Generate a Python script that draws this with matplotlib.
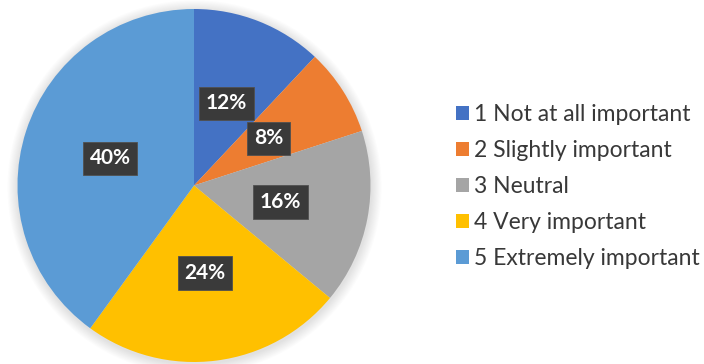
import matplotlib
matplotlib.use("Agg")
import matplotlib.pyplot as plt
from matplotlib.patches import Circle

categories = ["1 Not at all important", "2 Slightly important", "3 Neutral",
              "4 Very important", "5 Extremely important"]
values = [12, 8, 16, 24, 40]
colors = ["#4472C4", "#ED7D31", "#A5A5A5", "#FFC000", "#5B9BD5"]

W, H, DPI = 704, 364, 100
cx, cy, R = 194, 185.5, 176.5  # pie centre/radius in pixels (from top)

fig = plt.figure(figsize=(W / DPI, H / DPI), dpi=DPI)
ax = fig.add_axes([0, 0, 1, 1])

# soft shadow around the pie
n = 10
for i in range(n):
    ax.add_patch(Circle((0.003, -0.01), 1.0 + 0.006 * (n - i), color="#000000",
                        alpha=0.012, lw=0, zorder=0))

wedges, texts, autotexts = ax.pie(
    values, colors=colors, startangle=90, counterclock=False,
    radius=1.0, center=(0, 0), autopct="%1.0f%%", pctdistance=0.5,
    wedgeprops=dict(linewidth=0), frame=True,
    textprops=dict(color="white", fontsize=15, fontweight="bold",
                   family=["Lato", "DejaVu Sans"]))
ax.set_xlim((0 - cx) / R, (W - cx) / R)
ax.set_ylim((cy - H) / R, cy / R)
ax.set_aspect("auto")
ax.axis("off")
for t in autotexts:
    t.set_bbox(dict(boxstyle="square,pad=0.32", facecolor="#3A3A3A",
                    edgecolor="#505050", linewidth=0.6))
    t.set_zorder(5)

leg = ax.legend(wedges, categories, loc="upper left",
                bbox_to_anchor=(456 / W, 1 - 104 / H), bbox_transform=fig.transFigure,
                frameon=False, borderpad=0, borderaxespad=0,
                handlelength=0.55, handleheight=0.55, handletextpad=0.25,
                labelspacing=0.655,
                prop=dict(family=["Lato", "DejaVu Sans"], size=16.5))
for t in leg.get_texts():
    t.set_color("#383838")

fig.savefig("out.png", dpi=DPI, facecolor="white")
